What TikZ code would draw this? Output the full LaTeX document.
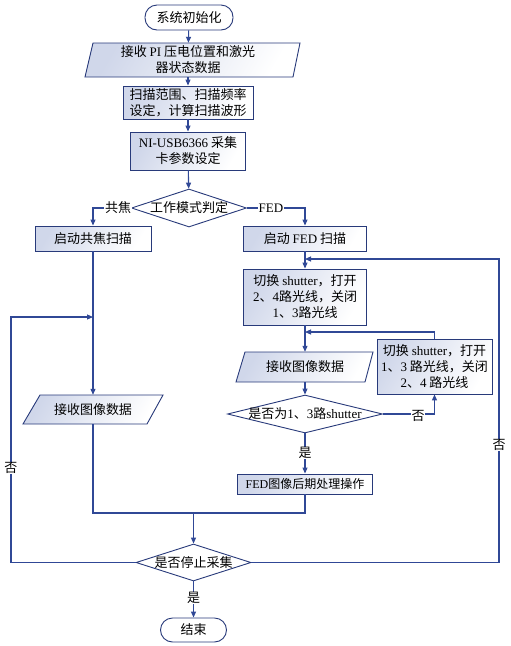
\documentclass[tikz,border=0pt]{standalone}
\usepackage{fontspec}
\setmainfont{Noto Sans CJK SC}
\newfontfamily\latf{Liberation Serif}
\newcommand{\lw}[1]{{\latf #1}}
\usetikzlibrary{shapes.geometric,arrows.meta,calc}
\definecolor{lc}{RGB}{48,72,150}
\definecolor{bc}{RGB}{40,58,122}
\definecolor{gc}{RGB}{208,215,234}
\begin{document}
\begin{tikzpicture}[x=1pt,y=1pt,font=\fontsize{13}{16}\selectfont,
  box/.style={draw=bc, line width=0.9pt, left color=gc, right color=white, shading angle=60, inner sep=0pt, align=center},
  term/.style={draw=bc, line width=0.9pt, fill=white, rounded corners=12pt, inner sep=0pt},
  dia/.style={draw=bc, line width=0.9pt, fill=white, diamond, inner sep=0pt},
  para/.style={draw=bc, line width=0.9pt, left color=gc, right color=white, shading angle=60},
  ghost/.style={inner sep=0pt, align=center},
  ln/.style={draw=lc, line width=1.1pt},
  arr/.style={ln, -{Triangle[length=6pt,width=5pt]}},
  lab/.style={fill=white, inner sep=0.6pt}]
\useasboundingbox (0,0) rectangle (511,-646);

% parallelogram backgrounds
\path[para] (85,-77) -- (93,-43) -- (300,-43) -- (293,-77) -- cycle;
\path[para] (236,-382) -- (245,-352) -- (373,-352) -- (365,-382) -- cycle;
\path[para] (23,-424) -- (40,-395) -- (163,-395) -- (147,-424) -- cycle;

% nodes
\node[term, minimum width=88pt, minimum height=25pt] (start) at (189,-17.5) {系统初始化};
\node[ghost, minimum width=200pt, minimum height=34pt] (p1) at (188,-60) {接收 \lw{PI} 压电位置和激光\\器状态数据};
\node[box, minimum width=130pt, minimum height=33pt] (b1) at (188,-102.5) {扫描范围、扫描频率\\设定，计算扫描波形};
\node[box, minimum width=115pt, minimum height=38pt] (b2) at (188,-151) {\lw{NI-USB6366} 采集\\卡参数设定};
\node[dia, minimum width=115pt, minimum height=38pt] (d1) at (189,-208) {};
\node[ghost] (d1t) at (d1) {工作模式判定};
\node[box, minimum width=116pt, minimum height=25pt] (b3) at (93,-238.5) {启动共焦扫描};
\node[box, minimum width=123pt, minimum height=25pt] (b4) at (305,-238.5) {启动 \lw{FED} 扫描};
\node[box, minimum width=123pt, minimum height=56pt] (b5) at (305,-297) {切换 \lw{shutter}，打开\\\lw{2}、\lw{4}路光线，关闭\\\lw{1}、\lw{3}路光线};
\node[box, minimum width=115pt, minimum height=55pt] (b6) at (434.5,-366.5) {切换 \lw{shutter}，打开\\\lw{1}、\lw{3} 路光线，关闭\\\lw{2}、\lw{4} 路光线};
\node[ghost, minimum width=120pt, minimum height=30pt] (p2) at (305,-367) {接收图像数据};
\node[dia, minimum width=155pt, minimum height=38pt] (d2) at (305,-414) {};
\node[ghost] (d2t) at (d2) {是否为\lw{1}、\lw{3}路\lw{shutter}};
\node[box, minimum width=135pt, minimum height=20pt, font=\fontsize{12}{14}\selectfont] (b7) at (305,-484) {\lw{FED}图像后期处理操作};
\node[ghost, minimum width=110pt, minimum height=29pt] (p3) at (93,-409.5) {接收图像数据};
\node[dia, minimum width=115pt, minimum height=37pt] (d3) at (193.5,-562.5) {};
\node[ghost] (d3t) at (d3) {是否停止采集};
\node[term, minimum width=66pt, minimum height=24pt] (end) at (193.5,-630) {结束};

% coordinates
\coordinate (m) at (193.5,-513);
\coordinate (lj) at (93,-317);
\coordinate (rj) at (305,-259);
\coordinate (rj2) at (305,-332);

% connectors
\draw[arr] (start) -- (p1);
\draw[arr] (p1) -- (b1);
\draw[arr] (b1) -- (b2);
\draw[arr] (b2) -- (d1);
\draw[arr] (d1.west) -| (b3.north);
\draw[arr] (d1.east) -| (b4.north);
\draw[arr] (b4) -- (b5);
\draw[arr] (b3) -- (p3);
\draw[arr] (b5) -- (p2);
\draw[arr] (p2) -- (d2);
\draw[arr] (d2.east) -| (b6.south);
\draw[arr] (b6.north) |- (rj2);
\draw[arr] (d2) -- (b7);
\draw[ln] (b7.south) |- (m) -| (p3.south);
\draw[arr] (m) -- (d3.north);
\draw[arr] (d3.west) -- (11,-562.5) |- (lj);
\draw[arr] (d3.east) -- (499,-562.5) |- (rj);
\draw[arr] (d3) -- (end);

% labels
\node[lab] (l1) at (118,-208) {共焦};
\node[lab] (l2) at (271,-208) {\lw{FED}};
\node[lab] (l3) at (418,-416) {否};
\node[lab] (l4) at (305,-453) {是};
\node[lab] (l5) at (11,-468) {否};
\node[lab] (l6) at (499,-445) {否};
\node[lab] (l7) at (193.5,-598) {是};
\end{tikzpicture}
\end{document}
